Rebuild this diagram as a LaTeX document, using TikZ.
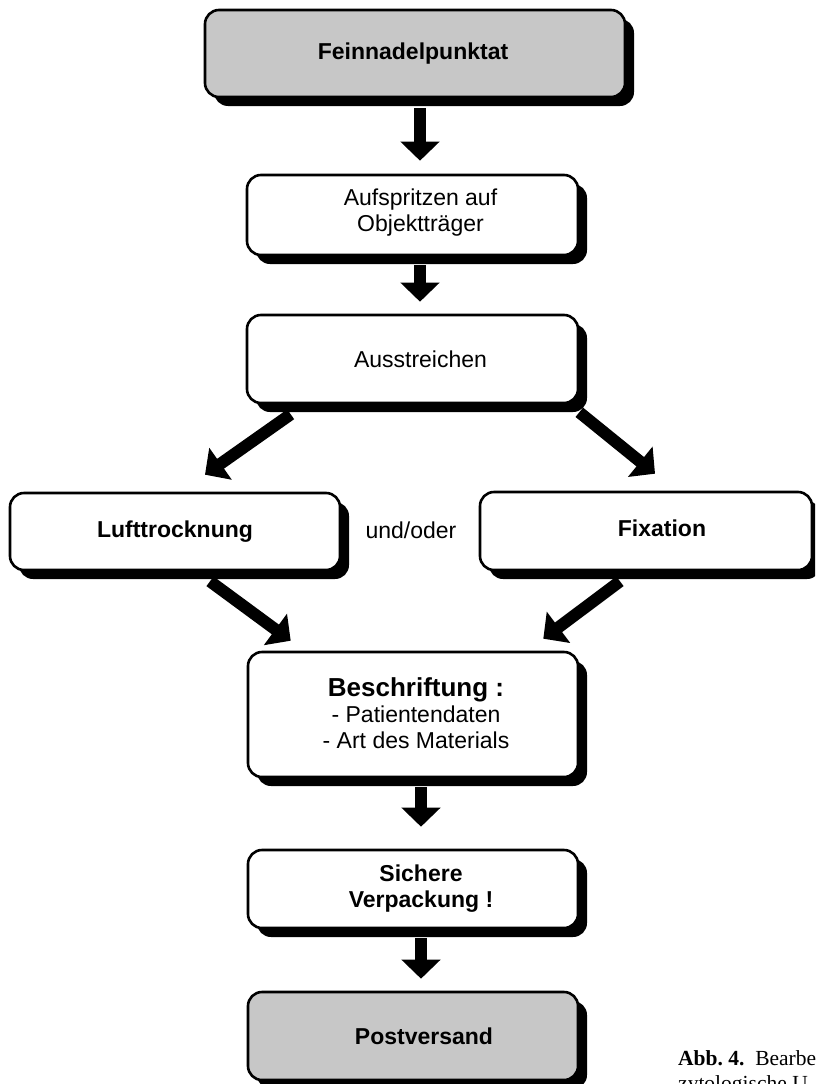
\documentclass[tikz,border=0pt]{standalone}
\usepackage{fontspec}
\setmainfont{Liberation Serif}
\newfontfamily\boxfont{Liberation Sans}
\usetikzlibrary{arrows.meta,shadows,calc}
\tikzset{
  flowbox/.style={draw=black, line width=2.6pt, rounded corners=14pt, fill=white,
    inner sep=0pt,
    drop shadow={shadow xshift=9pt, shadow yshift=-9pt, fill=black, opacity=1}},
  graybox/.style={flowbox, fill=black!22},
  bigarrow/.style={line width=12pt, -{Triangle[width=38pt,length=19pt]}},
  boxtext/.style={font=\boxfont\fontsize{23}{26}\selectfont, align=center, inner sep=0pt},
  captext/.style={font=\rmfamily\fontsize{21.5}{25}\selectfont, anchor=base west, inner sep=0pt}
}
\begin{document}
\begin{tikzpicture}[x=1pt, y=-1pt]
\useasboundingbox (0,0) rectangle (815,1084);
\clip (0,0) rectangle (815,1084);

\node[graybox, minimum width=420pt, minimum height=87pt] (b1) at (415,53.5) {};
\node[flowbox, minimum width=331pt, minimum height=80pt] (b2) at (412.5,215) {};
\node[flowbox, minimum width=331pt, minimum height=88pt] (b3) at (412.5,359) {};
\node[flowbox, minimum width=330pt, minimum height=77pt] (b4) at (175,531.5) {};
\node[flowbox, minimum width=332pt, minimum height=78pt] (b5) at (646,531) {};
\node[flowbox, minimum width=330pt, minimum height=125pt] (b6) at (413,714.5) {};
\node[flowbox, minimum width=330pt, minimum height=78pt] (b7) at (413,889) {};
\node[graybox, minimum width=330pt, minimum height=88pt] (b8) at (413,1036) {};

\node[boxtext] (t1) at ([xshift=-2pt]b1.center) {\bfseries Feinnadelpunktat};
\node[boxtext] (t2) at ([xshift=8pt,yshift=2pt]b2.center) {Aufspritzen auf\\Objektträger};
\node[boxtext] (t3) at ([xshift=8pt]b3.center) {Ausstreichen};
\node[boxtext] (t4) at (b4.center) {\bfseries Lufttrocknung};
\node[boxtext] (t5) at ([xshift=16pt,yshift=3pt]b5.center) {\bfseries Fixation};
\node[boxtext] (und) at (411,530) {und/oder};
\node[boxtext] (t6) at ([xshift=3pt,yshift=1pt]b6.center)
  {{\fontsize{26}{27}\selectfont\bfseries Beschriftung :}\\- Patientendaten\\- Art des Materials};
\node[boxtext] (t7) at ([xshift=8pt]b7.center) {\bfseries Sichere\\\bfseries Verpackung !};
\node[boxtext] (t8) at ([xshift=11pt]b8.center) {\bfseries Postversand};

\draw[bigarrow, shorten >=13pt] ([xshift=5pt,yshift=-10pt]b1.south) -- ([xshift=7.5pt]b2.north);
\draw[bigarrow, shorten >=12pt] ([xshift=7.5pt,yshift=-9pt]b2.south) -- ([xshift=7.5pt]b3.north);
\draw[bigarrow] ($(b3.south west)+(45,10)$) -- ($(b4.north)+(30,-17)$);
\draw[bigarrow] ($(b3.south east)+(0,8)$) -- ($(b5.north)+(9,-17)$);
\draw[bigarrow] ($(b4.south)+(35,10)$) -- ($(b6.north west)+(44,-10)$);
\draw[bigarrow] ($(b5.south)+(-26,10)$) -- ($(b6.north east)+(-36,-12)$);
\draw[bigarrow, shorten >=22pt] ([xshift=8pt,yshift=-9pt]b6.south) -- ([xshift=8pt]b7.north);
\draw[bigarrow, shorten >=12pt] ([xshift=8pt,yshift=-9pt]b7.south) -- ([xshift=8pt]b8.north);

\node[captext] (cap1) at (678,1065) {\textbf{Abb.~4.}\enspace Bearbe};
\node[captext] (cap2) at (678,1090) {zytologische U};
\end{tikzpicture}
\end{document}
